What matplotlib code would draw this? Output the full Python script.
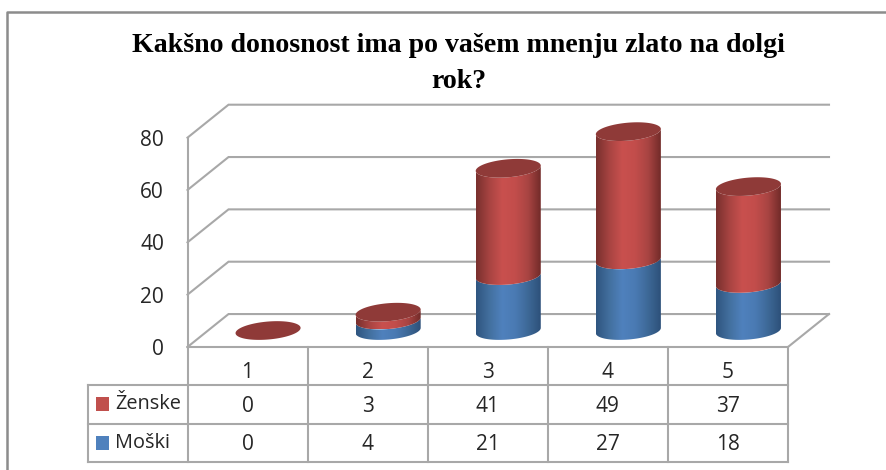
import numpy as np
from matplotlib import pyplot as plt
from matplotlib.colors import LinearSegmentedColormap
from matplotlib.patches import Polygon, Rectangle
from matplotlib.transforms import blended_transform_factory

plt.rcParams['font.family'] = ['Open Sans', 'DejaVu Sans']

# data
kategorije = ['1', '2', '3', '4', '5']
zenske = [0, 3, 41, 49, 37]
moski = [0, 4, 21, 27, 18]
oznake_y = [0, 20, 40, 60, 80]
naslov = 'Kakšno donosnost ima po vašem mnenju zlato na dolgi\nrok?'

W, H = 886, 470
GRID = '#a8a8a8'
TEXT = '#262626'
FS = 15

# depth of the fake 3d box, in data units (1 category = 120px, 1 unit = 2.62px)
dx = 41 / 120
dy = 33 / 2.62
a = 32.5 / 120  # cylinder half width
b = 9 / 2.62    # ellipse half height
nagib = 1.0     # ellipse tilt

fig = plt.figure(figsize=(W / 100, H / 100), dpi=100)

# background axes in pixels: frame, title, table lines
bg = fig.add_axes([0, 0, 1, 1])
bg.set_xlim(0, W)
bg.set_ylim(H, 0)
bg.axis('off')

# main axes: x in categories, y in values
L, R, Y0, Y1 = 187.5, 829, 347, 104.7
ax = fig.add_axes([L / W, 1 - Y0 / H, (R - L) / W, (Y0 - Y1) / H])
ax.patch.set_visible(False)
for s in ax.spines.values():
    s.set_visible(False)

# frame
bg.plot([W, 7, 7], [12, 12, H], color='#8c8c8c', lw=1.8)

bg.text(458.5, 52, naslov.split('\n')[0], ha='center', va='baseline',
        family='Liberation Serif', weight='bold', fontsize=20.1, color='black')
bg.text(458.5, 88, naslov.split('\n')[1], ha='center', va='baseline',
        family='Liberation Serif', weight='bold', fontsize=20.1, color='black')

# walls and gridlines
for v in oznake_y:
    ax.plot([0, dx, 5 + dx], [v, v + dy, v + dy], color=GRID, lw=1.5,
            clip_on=False, zorder=1, solid_joinstyle='miter')
ax.plot([0, 0], [0, oznake_y[-1]], color=GRID, lw=1.5, clip_on=False, zorder=1)
ax.plot([0, 5, 5 + dx], [0, 0, dy], color=GRID, lw=1.5, clip_on=False, zorder=1)

rdeca = LinearSegmentedColormap.from_list('r', ['#7a302e', '#a84442', '#c9504e', '#c24d4b', '#a84442', '#6f2a28'])
modra = LinearSegmentedColormap.from_list('m', ['#2f5580', '#43709f', '#4f81bd', '#4a7ab3', '#3d6896', '#2c4f78'])
grad = np.linspace(0, 1, 64).reshape(1, -1)
t = np.linspace(0, 2 * np.pi, 121)
spodaj = np.linspace(np.pi, 2 * np.pi, 61)


def valj(cx, y0, y1, cmap):
    # front surface between two levels, gradient clipped to the outline
    xs = cx + a * np.cos(spodaj)
    low = y0 + b * np.sin(spodaj) + nagib * np.cos(spodaj)
    high = y1 + b * np.sin(spodaj) + nagib * np.cos(spodaj)
    obris = np.vstack([np.column_stack([xs, low]), np.column_stack([xs, high])[::-1]])
    im = ax.imshow(grad, cmap=cmap, aspect='auto', zorder=3, interpolation='bilinear',
                   extent=[cx - a, cx + a, low.min(), high.max() + b])
    im.set_clip_path(Polygon(obris, closed=True, transform=ax.transData))


for i in range(len(kategorije)):
    cx = i + 0.5 + dx / 2
    base = dy / 2
    y_m = base + moski[i]
    y_z = y_m + zenske[i]
    if moski[i] > 0:
        valj(cx, base, y_m, modra)
    if zenske[i] > 0:
        valj(cx, y_m, y_z, rdeca)
    ax.fill(cx + a * np.cos(t), y_z + b * np.sin(t) + nagib * np.cos(t),
            color='#8f3a38', lw=0, zorder=4)

ax.set_xlim(0, 5 + dx)
ax.set_ylim(0, oznake_y[-1] + dy)

ax.set_yticks(oznake_y)
ax.set_yticklabels([str(v) for v in oznake_y], fontsize=FS, color=TEXT, va='center_baseline')
ax.tick_params(axis='y', length=0, pad=17)
ax.set_xticks([])

# data table below the plot
cx_tr = blended_transform_factory(ax.transData, bg.transData)
vrstice = [347, 385, 423.5, 462]
for y in vrstice[1:]:
    bg.plot([88, 788], [y, y], color=GRID, lw=1.5, zorder=1)
bg.plot([88, 88], [vrstice[1], vrstice[3]], color=GRID, lw=1.5, zorder=1)
for i in range(len(kategorije) + 1):
    ax.plot([i, i], [vrstice[0], vrstice[3]], color=GRID, lw=1.5, zorder=1,
            transform=cx_tr, clip_on=False)

for i, k in enumerate(kategorije):
    x = i + 0.5
    ax.text(x, 373, k, transform=cx_tr, ha='center', va='center', fontsize=FS, color=TEXT)
    ax.text(x, 406, str(zenske[i]), transform=cx_tr, ha='center', va='center', fontsize=FS, color=TEXT)
    ax.text(x, 444, str(moski[i]), transform=cx_tr, ha='center', va='center', fontsize=FS, color=TEXT)

# legend keys in the table
bg.add_patch(Rectangle((96, 397), 13.5, 14, color='#c0504d', lw=0))
bg.add_patch(Rectangle((96, 436), 13.5, 14, color='#4f81bd', lw=0))
bg.text(115, 404, 'Ženske', ha='left', va='center', fontsize=14.3, color=TEXT)
bg.text(115, 443.5, 'Moški', ha='left', va='center', fontsize=14.3, color=TEXT)

fig.savefig('out.png', dpi=100)
